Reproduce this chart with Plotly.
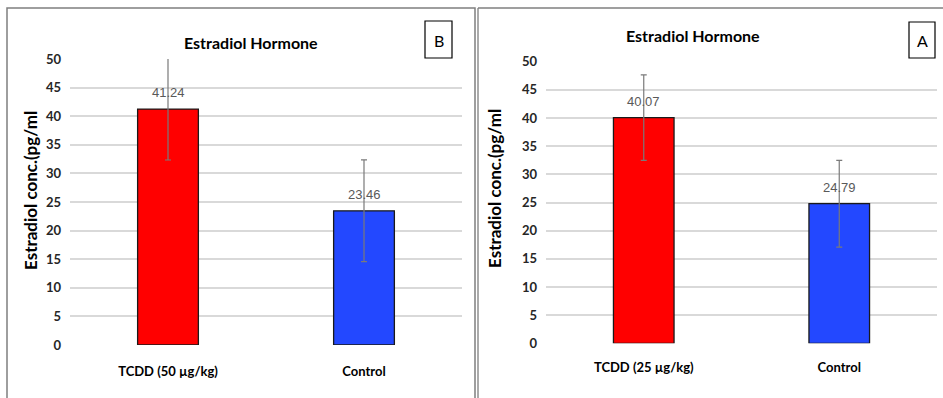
import plotly.graph_objects as go

W, H = 943, 398

# ---- data ----
cats_b = ["TCDD (50 µg/kg)", "Control"]
vals_b = [41.24, 23.46]
err_b = [8.9, 8.9]

cats_a = ["TCDD (25 µg/kg)", "Control"]
vals_a = [40.07, 24.79]
err_a = [7.6, 7.7]

bar_colors = ["#ff0000", "#2348ff"]
title_text = "Estradiol Hormone"
ytitle = "Estradiol conc.(pg/ml"
yticks = [0, 5, 10, 15, 20, 25, 30, 35, 40, 45, 50]


def px(x):
    return x / W


def py(y):
    return 1 - y / H


FONT = "Lato, 'Open Sans', sans-serif"

fig = go.Figure()

fig.add_trace(go.Bar(
    x=cats_b, y=vals_b, width=0.31,
    marker=dict(color=bar_colors, line=dict(color="#1a1a1a", width=1.3)),
    error_y=dict(type="data", array=err_b, visible=True, color="#7a7a7a", thickness=1.2, width=3),
    xaxis="x", yaxis="y", showlegend=False, hoverinfo="skip",
))
fig.add_trace(go.Bar(
    x=cats_a, y=vals_a, width=0.31,
    marker=dict(color=bar_colors, line=dict(color="#1a1a1a", width=1.3)),
    error_y=dict(type="data", array=err_a, visible=True, color="#7a7a7a", thickness=1.2, width=3),
    xaxis="x2", yaxis="y2", showlegend=False, hoverinfo="skip",
))

axis_common = dict(showline=False, zeroline=False, ticks="", automargin=False)
yaxis_common = dict(range=[0, 50], tickvals=yticks, showgrid=True, gridcolor="#d9d9d9", gridwidth=1.5,
                    zeroline=False, showline=False, ticks="", automargin=False,
                    tickfont=dict(family=FONT, size=13, color="#262626", weight="bold"))

fig.update_layout(
    width=W, height=H,
    margin=dict(l=0, r=0, t=0, b=0, pad=0),
    paper_bgcolor="white", plot_bgcolor="white",
    xaxis=dict(domain=[px(70), px(462)], anchor="y", showgrid=False, ticklabelstandoff=17,
               tickfont=dict(family=FONT, size=13, color="#000000", weight="bold"), **axis_common),
    yaxis=dict(domain=[py(345), py(59)], anchor="x", ticklabelstandoff=8, **yaxis_common),
    xaxis2=dict(domain=[px(546), px(937)], anchor="y2", showgrid=False, ticklabelstandoff=15,
                tickfont=dict(family=FONT, size=13, color="#000000", weight="bold"), **axis_common),
    yaxis2=dict(domain=[py(343.3), py(61.7)], anchor="x2", ticklabelstandoff=8, **yaxis_common),
)

annotations = []
for cats, vals, xr, yr in [(cats_b, vals_b, "x", "y"), (cats_a, vals_a, "x2", "y2")]:
    for c, v in zip(cats, vals):
        annotations.append(dict(x=c, y=v, xref=xr, yref=yr, text=f"{v:.2f}", showarrow=False,
                                yanchor="bottom", yshift=7,
                                font=dict(family="'Liberation Sans Narrow', 'Liberation Sans', Arial", size=13, color="#595959")))
annotations.append(dict(x=px(251), y=py(42), xref="paper", yref="paper", text=title_text, showarrow=False,
                        xanchor="center", yanchor="middle",
                        font=dict(family=FONT, size=16, color="#000000", weight="bold")))
annotations.append(dict(x=px(693), y=py(35), xref="paper", yref="paper", text=title_text, showarrow=False,
                        xanchor="center", yanchor="middle",
                        font=dict(family=FONT, size=16, color="#000000", weight="bold")))
annotations.append(dict(x=px(30), y=py(191), xref="paper", yref="paper", text=ytitle, showarrow=False,
                        textangle=-90, xanchor="center", yanchor="middle",
                        font=dict(family=FONT, size=17, color="#000000", weight="bold")))
annotations.append(dict(x=px(494), y=py(189), xref="paper", yref="paper", text=ytitle, showarrow=False,
                        textangle=-90, xanchor="center", yanchor="middle",
                        font=dict(family=FONT, size=17, color="#000000", weight="bold")))
annotations.append(dict(x=px(438.5), y=py(40), xref="paper", yref="paper", text="B", showarrow=False,
                        xanchor="center", yanchor="middle",
                        font=dict(family=FONT, size=16, color="#000000")))
annotations.append(dict(x=px(922), y=py(40), xref="paper", yref="paper", text="A", showarrow=False,
                        xanchor="center", yanchor="middle",
                        font=dict(family=FONT, size=16, color="#000000")))
fig.update_layout(annotations=annotations)

shapes = []
shapes.append(dict(type="rect", xref="paper", yref="paper", x0=px(7), x1=px(475), y0=py(410), y1=py(8),
                   line=dict(color="#7f7f7f", width=1.5), fillcolor="rgba(0,0,0,0)", layer="below"))
shapes.append(dict(type="line", xref="paper", yref="paper", x0=px(478), x1=px(478), y0=py(8), y1=py(410),
                   line=dict(color="#8f8f8f", width=1.5)))
shapes.append(dict(type="line", xref="paper", yref="paper", x0=px(478), x1=px(943), y0=py(8), y1=py(8),
                   line=dict(color="#7f7f7f", width=1.5)))
shapes.append(dict(type="rect", xref="paper", yref="paper", x0=px(425), x1=px(452), y0=py(58), y1=py(21),
                   line=dict(color="#000000", width=1.2), fillcolor="white"))
shapes.append(dict(type="rect", xref="paper", yref="paper", x0=px(909), x1=px(935), y0=py(58), y1=py(22),
                   line=dict(color="#000000", width=1.2), fillcolor="white"))
fig.update_layout(shapes=shapes)

fig.write_html(
    "out.html",
    config={"displayModeBar": False},
    post_script=(
        "document.documentElement.style.margin='0';document.documentElement.style.overflow='hidden';"
        "document.documentElement.style.height='398px';"
        "document.body.style.margin='0';document.body.style.padding='0';"
        "document.body.style.overflow='hidden';document.body.style.height='398px';"
    ),
)
